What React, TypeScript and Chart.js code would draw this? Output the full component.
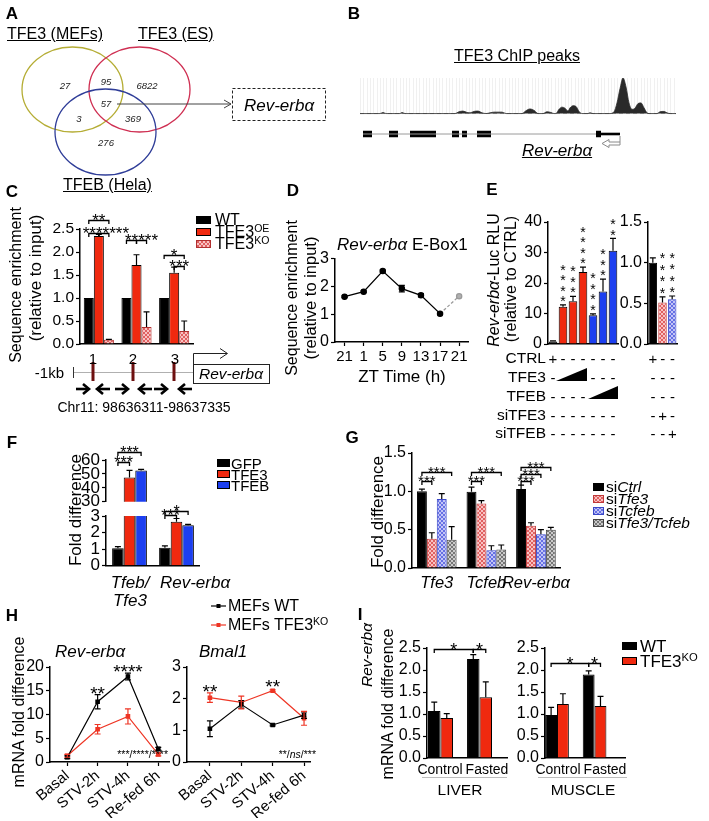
import React, { useEffect, useRef } from 'react';
import { Chart, registerables } from 'chart.js';

Chart.register(...registerables);

const FONT = "'Liberation Sans', Arial, Helvetica, sans-serif";
Chart.defaults.font.family = FONT;
Chart.defaults.color = '#000';

const RED = '#f0290f';
const BLUE = '#1c3ff0';
const HRED = '#ee3524';

// ===== Panel A (Venn) =====
const vennSets = ['TFE3 (MEFs)', 'TFE3 (ES)', 'TFEB (Hela)'];
const vennCounts = [27, 95, 6822, 57, 3, 369, 276];
// layout of the diagram (not data)
const vennCircles = [
  { cx: 72.5, cy: 49.5, rx: 50.5, ry: 42.5, color: '#b5ad35' },
  { cx: 139.5, cy: 49.5, rx: 50.5, ry: 42.5, color: '#cf2f52' },
  { cx: 105.5, cy: 92, rx: 50.5, ry: 43, color: '#2f3d98' },
];
const vennLabelXY = [[65, 46], [106, 42], [147, 46], [106, 64], [79, 79], [133, 79], [106, 103]];

// ===== Panel B (ChIP track) =====
const chipPos = [0, 20, 23, 26, 40, 42, 45, 95, 99, 103, 107, 110, 114, 118, 122, 126, 130, 134, 138, 142, 146, 162, 166, 170, 174, 178, 183, 187, 191, 194, 196, 199, 202, 205, 208, 210, 213, 216, 219, 222, 228, 230, 233, 250, 254, 257, 260, 263, 266, 269, 272, 275, 278, 281, 284, 287, 289, 297, 300, 304, 307, 310, 316];
const chipSignal = [0, 0, 0.3, 0, 0, 0.3, 0, 0, 0.5, 0.7, 0.3, 0.2, 0.6, 0.7, 0.2, 0, 0.2, 0.4, 0.4, 0.4, 0, 0, 0.8, 1.3, 0.9, 0, 0, 0.5, 0.3, 0, 0, 1.2, 1.8, 1.5, 0.7, 1.6, 2.2, 2.0, 0.6, 0, 0, 0.2, 0, 0, 0.5, 3, 7, 10, 7.5, 3, 1.2, 1.5, 2.8, 3, 1.6, 0.2, 0, 0, 0.5, 0.6, 0.2, 0, 0];
const exonStart = [3, 29, 50, 92, 102, 117, 236];
const exonEnd = [12, 38, 76, 99, 107, 131, 241];
const utrSpan = [241, 260];
const intronSpan = [3, 236];

// ===== Panel C =====
const cSites = ['1', '2', '3'];
const cWT = [1, 1, 1];
const cOE = [2.35, 1.72, 1.55];
const cOEErr = [0.03, 0.22, 0.12];
const cKO = [0.09, 0.37, 0.28];
const cKOErr = [0.01, 0.33, 0.22];

// ===== Panel D =====
const dZT = ['21', '1', '5', '9', '13', '17', '21'];
const dMean = [1.63, 1.81, 2.55, 1.92, 1.68, 1.02, 1.65];
const dErr = [0.03, 0.03, 0.04, 0.12, 0.06, 0.04, 0.02];

// ===== Panel E =====
const eConds = ['CTRL', 'TFE3 low', 'TFE3 mid', 'TFE3 high', 'TFEB low', 'TFEB mid', 'TFEB high'];
const eRLU = [0.8, 12.2, 14.0, 23.6, 9.4, 17.2, 30.6];
const eRLUErr = [0.2, 0.6, 1.6, 1.6, 0.5, 4.1, 4.0];
const eStars = [0, 4, 3, 4, 4, 3, 2];
const eSiConds = ['CTRL', 'siTFE3', 'siTFEB'];
const eSiRLU = [1.0, 0.51, 0.55];
const eSiErr = [0.06, 0.07, 0.04];
const eSiStars = [0, 4, 4];
const eRowNames = ['CTRL', 'TFE3', 'TFEB', 'siTFE3', 'siTFEB'];
const eSignsLeft = ['+------', '-   ---', '----   ', '-------', '-------'];
const eSignsRight = ['+--', '---', '---', '-+-', '--+'];

// ===== Panel F =====
const fGenes = ['Tfeb/Tfe3', 'Rev-erbα'];
const fGFP = [1.05, 1.08];
const fGFPErr = [0.1, 0.12];
const fTFE3 = [47.5, 2.65];
const fTFE3Err = [5, 0.2];
const fTFEB = [52.5, 2.45];
const fTFEBErr = [0.7, 0.05];

// ===== Panel G =====
const gGenes = ['Tfe3', 'Tcfeb', 'Rev-erbα'];
const gCtrl = [1.0, 0.995, 1.03];
const gCtrlErr = [0.03, 0.06, 0.05];
const gTfe3 = [0.38, 0.84, 0.55];
const gTfe3Err = [0.08, 0.04, 0.04];
const gTcfeb = [0.9, 0.23, 0.44];
const gTcfebErr = [0.07, 0.06, 0.06];
const gBoth = [0.37, 0.24, 0.5];
const gBothErr = [0.17, 0.06, 0.03];

// ===== Panel H =====
const hTimes = ['Basal', 'STV-2h', 'STV-4h', 'Re-fed 6h'];
const revWT = [1.0, 12.7, 18.0, 2.8];
const revWTErr = [0.3, 1.5, 0.7, 0.3];
const revKO = [1.3, 6.9, 9.6, 1.6];
const revKOErr = [0.3, 1.0, 1.6, 0.3];
const bmalWT = [1.05, 1.82, 1.17, 1.48];
const bmalWTErr = [0.25, 0.12, 0.03, 0.1];
const bmalKO = [2.03, 1.88, 2.25, 1.38];
const bmalKOErr = [0.15, 0.2, 0.03, 0.22];

// ===== Panel I =====
const iConds = ['Control', 'Fasted'];
const liverWT = [1.07, 2.25];
const liverWTErr = [0.2, 0.1];
const liverKO = [0.91, 1.38];
const liverKOErr = [0.1, 0.35];
const muscleWT = [0.98, 1.9];
const muscleWTErr = [0.17, 0.08];
const muscleKO = [1.23, 1.18];
const muscleKOErr = [0.23, 0.22];

// ---------------- helpers ----------------
function hatch(bg: string, fg: string) {
  const c = document.createElement('canvas');
  c.width = 4; c.height = 4;
  const g = c.getContext('2d')!;
  g.fillStyle = bg; g.fillRect(0, 0, 4, 4);
  g.fillStyle = fg;
  for (let k = 0; k < 4; k++) { g.fillRect(k, k, 1, 1); g.fillRect(3 - k, k, 1, 1); }
  return g.createPattern(c, 'repeat');
}
const PINK = ['#f8c2c2', '#e06060'];
const LAV = ['#c2c5f6', '#6670e4'];
const GREY = ['#cacaca', '#767676'];

type Frame = { left: number; top: number; width: number; height: number; padding: any };
function frame(area: number[], yW: number, xH: number, pad: any = {}): Frame {
  const [l, t, r, b] = area;
  const pt = pad.t ?? 0, pr = pad.r ?? 0, pb = pad.b ?? 0;
  const left = l - yW, top = t - pt;
  return { left, top, width: r + pr - left, height: b + xH + pb - top, padding: { top: pt, right: pr, bottom: pb, left: 0 } };
}

function ChartBox({ f, make }: { f: Frame; make: (f: Frame) => any }) {
  const ref = useRef<HTMLCanvasElement>(null);
  useEffect(() => {
    const ch = new Chart(ref.current as any, make(f));
    return () => ch.destroy();
  }, []);
  return <canvas ref={ref} width={f.width} height={f.height}
    style={{ position: 'absolute', left: f.left, top: f.top, width: f.width, height: f.height }} />;
}

function base(f: Frame, scales: any, extra: any = {}) {
  return {
    animation: false, responsive: false, maintainAspectRatio: false, events: [],
    layout: { padding: f.padding },
    plugins: { legend: { display: false }, tooltip: { enabled: false } },
    scales,
    ...extra,
  };
}

function yLin(o: any) {
  return {
    type: 'linear', min: o.min, max: o.max,
    ticks: {
      stepSize: o.step, autoSkip: false, font: { size: o.size ?? 15, family: FONT }, color: '#000', padding: 2,
      callback: (v: any) => (o.dec ? Number(v).toFixed(o.dec) : String(v)),
    },
    grid: { display: true, drawOnChartArea: false, drawTicks: true, tickLength: 4, tickColor: '#000', tickWidth: 1.2 },
    border: { display: true, color: '#000', width: 1.5 },
    afterFit: (s: any) => { s.width = o.w; },
  };
}

function xCat(o: any) {
  return {
    type: 'category', offset: true, display: o.display ?? true,
    ticks: { display: !!o.labels, font: { size: o.size ?? 16, style: o.italic ? 'italic' : 'normal', family: FONT }, color: '#000', padding: 2, autoSkip: false, maxRotation: 0 },
    grid: { display: !!o.ticks, drawOnChartArea: false, drawTicks: true, tickLength: 4, tickColor: '#000', tickWidth: 1.2, offset: false },
    border: { display: true, color: '#000', width: 1.5 },
    afterFit: (s: any) => { s.height = o.h; },
  };
}

function xLinBar(min: number, max: number, h: number) {
  return {
    type: 'linear', min, max, offset: false,
    ticks: { display: false, stepSize: 1, includeBounds: false },
    grid: { display: false, offset: false },
    border: { display: true, color: '#000', width: 1.5 },
    afterFit: (s: any) => { s.height = h; },
  };
}

function xLinH(min: number, max: number, h: number) {
  return {
    type: 'linear', min, max,
    ticks: {
      stepSize: 1, includeBounds: false, autoSkip: false, maxRotation: 40, minRotation: 40,
      font: { size: 15, family: FONT }, color: '#000', padding: 1,
      callback: (v: any) => hTimes[Math.round(v)] ?? '',
    },
    grid: { display: true, drawOnChartArea: false, drawTicks: true, tickLength: 4, tickColor: '#000', tickWidth: 1.2 },
    border: { display: true, color: '#000', width: 1.5 },
    afterFit: (s: any) => { s.height = h; },
  };
}

const errBars = {
  id: 'errBars',
  afterDatasetsDraw(chart: any) {
    const ctx = chart.ctx;
    chart.data.datasets.forEach((ds: any, di: number) => {
      if (!ds.errorBars) return;
      const meta = chart.getDatasetMeta(di);
      const ys = chart.scales[meta.yAxisID];
      ctx.save();
      ctx.strokeStyle = ds.errorColor || '#000';
      ctx.lineWidth = ds.errorWidth || 1.2;
      meta.data.forEach((el: any, i: number) => {
        const raw = ds.data[i];
        const v = raw != null && typeof raw === 'object' ? raw.y : raw;
        const e = ds.errorBars[i];
        if (v == null || e == null) return;
        const x = el.x;
        const yt = ys.getPixelForValue(v + e);
        const yb = ys.getPixelForValue(ds.errorBoth ? v - e : v);
        const cw = ds.errorCap ?? 3;
        ctx.beginPath();
        ctx.moveTo(x, yb); ctx.lineTo(x, yt);
        ctx.moveTo(x - cw, yt); ctx.lineTo(x + cw, yt);
        if (ds.errorBoth) { ctx.moveTo(x - cw, yb); ctx.lineTo(x + cw, yb); }
        ctx.stroke();
      });
      ctx.restore();
    });
  },
};

function brackets(items: any[], size: number) {
  return {
    id: 'brackets',
    afterDatasetsDraw(chart: any) {
      const ctx = chart.ctx; const ys = chart.scales.y;
      const px = (r: number[]) => chart.getDatasetMeta(r[0]).data[r[1]].x;
      ctx.save();
      ctx.strokeStyle = '#000'; ctx.lineWidth = 1.3; ctx.fillStyle = '#000';
      ctx.font = `${size}px ${FONT}`; ctx.textAlign = 'center'; ctx.textBaseline = 'alphabetic';
      for (const b of items) {
        const y = Math.round(ys.getPixelForValue(b.y)) + 0.5;
        const x1 = px(b.a), x2 = px(b.b);
        ctx.beginPath();
        ctx.moveTo(x1, y + 3.5); ctx.lineTo(x1, y); ctx.lineTo(x2, y); ctx.lineTo(x2, y + 3.5);
        ctx.stroke();
        if (b.text) ctx.fillText(b.text, (x1 + x2) / 2 + (b.dx || 0), y - 1.5 + 0.43 * size);
      }
      ctx.restore();
    },
  };
}

function starStack(counts: number[], size: number, spacing: number, gap: number) {
  return {
    id: 'starStack',
    afterDatasetsDraw(chart: any) {
      const ctx = chart.ctx; const ys = chart.scales.y;
      const meta = chart.getDatasetMeta(0); const ds = chart.data.datasets[0];
      ctx.save();
      ctx.fillStyle = '#000'; ctx.font = `${size}px ${FONT}`; ctx.textAlign = 'center'; ctx.textBaseline = 'alphabetic';
      counts.forEach((n, i) => {
        const el = meta.data[i];
        const top = ys.getPixelForValue(ds.data[i] + (ds.errorBars ? ds.errorBars[i] : 0));
        for (let k = 0; k < n; k++) {
          const cy = top - gap - k * spacing;
          ctx.fillText('*', el.x, cy + 0.575 * size);
        }
      });
      ctx.restore();
    },
  };
}

function starLabels(items: any[], size: number) {
  return {
    id: 'starLabels',
    afterDatasetsDraw(chart: any) {
      const ctx = chart.ctx; const xs = chart.scales.x; const ys = chart.scales.y;
      ctx.save();
      ctx.fillStyle = '#000'; ctx.font = `${size}px ${FONT}`; ctx.textAlign = 'center'; ctx.textBaseline = 'alphabetic';
      for (const it of items) {
        ctx.fillText(it.text, xs.getPixelForValue(it.x), ys.getPixelForValue(it.y) + 0.43 * size);
      }
      ctx.restore();
    },
  };
}

const vennPlugin = {
  id: 'venn',
  afterDatasetsDraw(chart: any) {
    const ctx = chart.ctx; const xs = chart.scales.x; const ys = chart.scales.y;
    ctx.save();
    ctx.lineWidth = 1.3;
    for (const c of vennCircles) {
      const cx = xs.getPixelForValue(c.cx), cy = ys.getPixelForValue(c.cy);
      const rx = Math.abs(xs.getPixelForValue(c.cx + c.rx) - cx);
      const ry = Math.abs(ys.getPixelForValue(c.cy + c.ry) - cy);
      ctx.strokeStyle = c.color;
      ctx.beginPath(); ctx.ellipse(cx, cy, rx, ry, 0, 0, Math.PI * 2); ctx.stroke();
    }
    const meta = chart.getDatasetMeta(0);
    ctx.fillStyle = '#222'; ctx.font = `italic 9.5px ${FONT}`; ctx.textAlign = 'center'; ctx.textBaseline = 'middle';
    meta.data.forEach((el: any, i: number) => ctx.fillText(String(vennCounts[i]), el.x, el.y));
    ctx.restore();
  },
};

const stripes = {
  id: 'stripes',
  beforeDatasetsDraw(chart: any) {
    const ctx = chart.ctx; const xs = chart.scales.x; const ys = chart.scales.y;
    const top = ys.getPixelForValue(10), bot = ys.getPixelForValue(0);
    ctx.save(); ctx.strokeStyle = 'rgba(0,0,0,0.06)'; ctx.lineWidth = 1;
    for (let v = 0; v <= 316; v += 3.3) {
      const px = Math.round(xs.getPixelForValue(v)) + 0.5;
      ctx.beginPath(); ctx.moveTo(px, top); ctx.lineTo(px, bot); ctx.stroke();
    }
    ctx.restore();
  },
};

// ---------------- chart configs ----------------
const fA = frame([0, 40, 240, 190], 0, 0);
const mkA = (f: Frame) => ({
  type: 'scatter',
  data: { datasets: [{ data: vennLabelXY.map(([x, y]) => ({ x, y })), pointRadius: 0 }] },
  options: base(f, { x: { display: false, min: 0, max: 240 }, y: { display: false, min: 0, max: 150, reverse: true } }),
  plugins: [vennPlugin],
});

const fB = frame([360, 78, 676, 142], 0, 0);
const mkB = (f: Frame) => {
  const gy = -5.75;
  const exonPts: any[] = [];
  exonStart.forEach((s, i) => { exonPts.push({ x: s, y: gy }, { x: exonEnd[i], y: gy }, { x: exonEnd[i], y: null }); });
  return {
    type: 'line',
    data: {
      datasets: [
        { data: chipPos.map((x, i) => ({ x, y: chipSignal[i] })), borderColor: '#2a2a2a', backgroundColor: '#2a2a2a', borderWidth: 0.8, fill: 'origin', pointRadius: 0, cubicInterpolationMode: 'monotone', order: 1 },
        { data: [{ x: 0, y: 0 }, { x: 316, y: 0 }], borderColor: '#b5b5b5', borderDash: [4, 3], borderWidth: 1, pointRadius: 0, order: 2 },
        { data: [{ x: intronSpan[0], y: gy }, { x: intronSpan[1], y: gy }], borderColor: '#9a9a9a', borderWidth: 1, pointRadius: 0 },
        { data: exonPts, borderColor: '#000', borderWidth: 6.5, borderCapStyle: 'butt', pointRadius: 0, spanGaps: false },
        { data: [{ x: utrSpan[0], y: gy }, { x: utrSpan[1], y: gy }], borderColor: '#000', borderWidth: 2.6, borderCapStyle: 'butt', pointRadius: 0 },
      ],
    },
    options: base(f, { x: { type: 'linear', display: false, min: 0, max: 316 }, y: { display: false, min: -8, max: 10 } }),
    plugins: [stripes],
  };
};

const fC = frame([80, 229, 193, 344], 40, 12, { t: 32, r: 2 });
const mkC = (f: Frame) => ({
  type: 'bar',
  data: {
    labels: cSites,
    datasets: [
      { data: cWT, backgroundColor: '#000', borderColor: '#000', borderWidth: 1 },
      { data: cOE, backgroundColor: RED, borderColor: '#000', borderWidth: 1, errorBars: cOEErr },
      { data: cKO, backgroundColor: hatch(PINK[0], PINK[1]), borderColor: '#b03030', borderWidth: 1, errorBars: cKOErr },
    ],
  },
  options: base(f, { x: xCat({ h: 12 }), y: yLin({ min: 0, max: 2.5, step: 0.5, dec: 1, w: 40, size: 15.5 }) },
    { datasets: { bar: { categoryPercentage: 0.8, barPercentage: 1 } } }),
  plugins: [errBars, brackets([
    { a: [0, 0], b: [2, 0], y: 2.7, text: '**' },
    { a: [0, 0], b: [1, 0], y: 2.42 },
    { a: [1, 0], b: [2, 0], y: 2.42, text: '*******', dx: 2 },
    { a: [0, 1], b: [1, 1], y: 2.26 },
    { a: [1, 1], b: [2, 1], y: 2.26, text: '*****' },
    { a: [0, 2], b: [2, 2], y: 1.93, text: '*' },
    { a: [1, 2], b: [2, 2], y: 1.7, text: '***' },
  ], 17)],
});

const fD = frame([335, 257, 470, 342], 22, 24, { t: 10, r: 4 });
const mkD = (f: Frame) => ({
  type: 'line',
  data: {
    labels: dZT,
    datasets: [
      { data: dMean.map((v, i) => (i < 6 ? v : null)), borderColor: '#000', backgroundColor: '#000', borderWidth: 1.3, pointRadius: 2.6, pointStyle: 'circle', errorBars: dErr.map((e, i) => (i < 6 ? e : null)), errorBoth: true, errorCap: 3 },
      { data: dMean.map((v, i) => (i >= 5 ? v : null)), borderColor: '#9a9a9a', backgroundColor: '#b0b0b0', borderWidth: 1.3, borderDash: [3, 2], pointRadius: [0, 0, 0, 0, 0, 0, 2.6] },
    ],
  },
  options: base(f, {
    x: { ...xCat({ h: 24, labels: true, ticks: true, size: 15 }) },
    y: yLin({ min: 0, max: 3, step: 1, w: 22, size: 16 }),
  }),
  plugins: [errBars],
});

const fE1 = frame([548, 222, 618, 344], 26, 12, { t: 16, r: 1 });
const mkE1 = (f: Frame) => ({
  type: 'bar',
  data: {
    labels: eConds,
    datasets: [{ data: eRLU, backgroundColor: ['#000', RED, RED, RED, BLUE, BLUE, BLUE], borderColor: '#000', borderWidth: 1, errorBars: eRLUErr }],
  },
  options: base(f, { x: xCat({ h: 12 }), y: yLin({ min: 0, max: 40, step: 10, w: 26, size: 16 }) },
    { datasets: { bar: { categoryPercentage: 1, barPercentage: 0.86 } } }),
  plugins: [errBars, starStack(eStars, 14, 10.5, 7)],
});

const fE2 = frame([648, 222, 677, 344], 28, 12, { t: 16, r: 4 });
const mkE2 = (f: Frame) => ({
  type: 'bar',
  data: {
    labels: eSiConds,
    datasets: [{ data: eSiRLU, backgroundColor: ['#000', hatch(PINK[0], PINK[1]), hatch(LAV[0], LAV[1])], borderColor: ['#000', '#c03a3a', '#3a48c8'], borderWidth: 1, errorBars: eSiErr }],
  },
  options: base(f, { x: xCat({ h: 12 }), y: yLin({ min: 0, max: 1.5, step: 0.5, dec: 1, w: 28, size: 16 }) },
    { datasets: { bar: { categoryPercentage: 1, barPercentage: 0.88 } } }),
  plugins: [errBars, starStack(eSiStars, 14, 11.5, 7)],
});

const fDatasets = (upper: boolean) => [
  { data: fGFP, backgroundColor: '#000', borderColor: '#000', borderWidth: 1, errorBars: upper ? null : fGFPErr },
  { data: fTFE3, backgroundColor: RED, borderColor: '#000', borderWidth: 1, errorBars: upper ? [fTFE3Err[0], null] : [null, fTFE3Err[1]] },
  { data: fTFEB, backgroundColor: BLUE, borderColor: '#000', borderWidth: 1, errorBars: upper ? [fTFEBErr[0], null] : [null, fTFEBErr[1]] },
];
const fF1 = frame([106, 460, 200, 504], 28, 0, { t: 22, b: 10 });
const mkF1 = (f: Frame) => ({
  type: 'bar',
  data: { labels: fGenes, datasets: fDatasets(true) },
  options: base(f, { x: { ...xCat({ h: 0 }), display: false }, y: yLin({ min: 30, max: 60, step: 10, w: 28, size: 17 }) },
    { datasets: { bar: { categoryPercentage: 0.74, barPercentage: 1, clip: 0 } } }),
  plugins: [errBars, brackets([
    { a: [0, 0], b: [2, 0], y: 65.5, text: '***' },
    { a: [0, 0], b: [1, 0], y: 58.6, text: '***' },
  ], 16)],
});
const fF2 = frame([106, 516, 200, 566], 28, 12, { t: 14 });
const mkF2 = (f: Frame) => ({
  type: 'bar',
  data: { labels: fGenes, datasets: fDatasets(false) },
  options: base(f, { x: xCat({ h: 12 }), y: yLin({ min: 0, max: 3, step: 1, w: 28, size: 17 }) },
    { datasets: { bar: { categoryPercentage: 0.74, barPercentage: 1, clip: 0 } } }),
  plugins: [errBars, brackets([
    { a: [0, 1], b: [2, 1], y: 3.3, text: '*' },
    { a: [0, 1], b: [1, 1], y: 3.05, text: '***' },
  ], 16)],
});

const fG = frame([412, 453, 572, 568], 30, 30, { t: 24 });
const mkG = (f: Frame) => ({
  type: 'bar',
  data: {
    labels: gGenes,
    datasets: [
      { data: gCtrl, backgroundColor: '#000', borderColor: '#000', borderWidth: 1, errorBars: gCtrlErr },
      { data: gTfe3, backgroundColor: hatch(PINK[0], PINK[1]), borderColor: '#c03a3a', borderWidth: 1, errorBars: gTfe3Err },
      { data: gTcfeb, backgroundColor: hatch(LAV[0], LAV[1]), borderColor: '#3a48c8', borderWidth: 1, errorBars: gTcfebErr },
      { data: gBoth, backgroundColor: hatch(GREY[0], GREY[1]), borderColor: '#444', borderWidth: 1, errorBars: gBothErr },
    ],
  },
  options: base(f, { x: xCat({ h: 30, labels: true, italic: true, size: 16.5 }), y: yLin({ min: 0, max: 1.5, step: 0.5, dec: 1, w: 30, size: 16 }) },
    { datasets: { bar: { categoryPercentage: 0.8, barPercentage: 1 } } }),
  plugins: [errBars, brackets([
    { a: [0, 0], b: [3, 0], y: 1.25, text: '***' },
    { a: [0, 0], b: [1, 0], y: 1.13, text: '***' },
    { a: [0, 1], b: [3, 1], y: 1.25, text: '***' },
    { a: [0, 1], b: [1, 1], y: 1.13, text: '***' },
    { a: [0, 2], b: [3, 2], y: 1.32, text: '***' },
    { a: [0, 2], b: [2, 2], y: 1.23, text: '***' },
    { a: [0, 2], b: [1, 2], y: 1.14, text: '***' },
  ], 15)],
});

const lineDs = (vals: number[], errs: number[], color: string) => ({
  data: vals.map((v, i) => ({ x: i, y: v })), borderColor: color, backgroundColor: color, borderWidth: 1.2,
  pointStyle: 'rect', pointRadius: 2.4, errorBars: errs, errorBoth: true, errorColor: color, errorCap: 3,
});
const fH1 = frame([50, 667, 175, 762], 24, 56, { t: 14 });
const mkH1 = (f: Frame) => ({
  type: 'line',
  data: { datasets: [lineDs(revWT, revWTErr, '#000'), lineDs(revKO, revKOErr, HRED)] },
  options: base(f, { x: xLinH(-0.57, 3.38, 56), y: yLin({ min: 0, max: 20, step: 5, w: 24, size: 16 }) }),
  plugins: [errBars, starLabels([{ x: 1, y: 14.8, text: '**' }, { x: 2, y: 19.4, text: '****' }], 19)],
});
const fH2 = frame([187, 667, 310, 762], 16, 56, { t: 14, r: 8 });
const mkH2 = (f: Frame) => ({
  type: 'line',
  data: { datasets: [lineDs(bmalWT, bmalWTErr, '#000'), lineDs(bmalKO, bmalKOErr, HRED)] },
  options: base(f, { x: xLinH(-0.73, 3.19, 56), y: yLin({ min: 0, max: 3, step: 1, w: 16, size: 16 }) }),
  plugins: [errBars, starLabels([{ x: 0, y: 2.27, text: '**' }, { x: 2, y: 2.43, text: '**' }], 19)],
});

const barDs = (vals: number[], errs: number[], color: string) => ({
  data: vals.map((v, i) => ({ x: i, y: v })), backgroundColor: color, borderColor: '#000', borderWidth: 1, errorBars: errs,
});
const fI1 = frame([427, 648, 508, 758], 32, 12, { t: 14 });
const mkI1 = (f: Frame) => ({
  type: 'bar',
  data: { datasets: [barDs(liverWT, liverWTErr, '#000'), barDs(liverKO, liverKOErr, RED)] },
  options: base(f, { x: xLinBar(-0.346, 1.73, 12), y: yLin({ min: 0, max: 2.5, step: 0.5, dec: 1, w: 32, size: 16 }) },
    { datasets: { bar: { categoryPercentage: 0.64, barPercentage: 1 } } }),
  plugins: [errBars, brackets([
    { a: [0, 0], b: [0, 1], y: 2.48, text: '*' },
    { a: [0, 1], b: [1, 1], y: 2.48, text: '*' },
  ], 18)],
});
const fI2 = frame([545, 648, 625, 758], 32, 12, { t: 14, r: 2 });
const mkI2 = (f: Frame) => ({
  type: 'bar',
  data: { datasets: [barDs(muscleWT, muscleWTErr, '#000'), barDs(muscleKO, muscleKOErr, RED)] },
  options: base(f, { x: xLinBar(-0.32, 1.81, 12), y: yLin({ min: 0, max: 2.5, step: 0.5, dec: 1, w: 32, size: 16 }) },
    { datasets: { bar: { categoryPercentage: 0.63, barPercentage: 1 } } }),
  plugins: [errBars, brackets([
    { a: [0, 0], b: [0, 1], y: 2.16, text: '*' },
    { a: [0, 1], b: [1, 1], y: 2.16, text: '*' },
  ], 18)],
});

// ---------------- text helpers ----------------
function T({ x, y, s = 15, a = 'l', i = false, b = false, u = false, c = '#000', children }: any) {
  const tx = a === 'c' ? '-50%' : a === 'r' ? '-100%' : '0';
  return (
    <div style={{
      position: 'absolute', left: x, top: y - s / 2, fontSize: s, lineHeight: `${s}px`,
      fontStyle: i ? 'italic' : 'normal', fontWeight: b ? 'bold' : 'normal',
      textDecoration: u ? 'underline' : 'none', transform: `translateX(${tx})`, whiteSpace: 'nowrap', color: c,
    }}>{children}</div>
  );
}
function R({ x, y, s = 16, children }: any) {
  return (
    <div style={{
      position: 'absolute', left: x, top: y, fontSize: s, lineHeight: `${s}px`,
      transform: 'translate(-50%,-50%) rotate(-90deg)', whiteSpace: 'nowrap',
    }}>{children}</div>
  );
}
const Sup = ({ children }: any) => <span style={{ fontSize: '0.66em', verticalAlign: '0.5em', lineHeight: 0 }}>{children}</span>;

function HatchDef({ id, bg, fg }: any) {
  return (
    <pattern id={id} width="4" height="4" patternUnits="userSpaceOnUse">
      <rect width="4" height="4" fill={bg} />
      <path d="M0 0h1v1H0zM1 1h1v1H1zM2 2h1v1H2zM3 3h1v1H3zM3 0h1v1H3zM2 1h1v1H2zM1 2h1v1H1zM0 3h1v1H0z" fill={fg} />
    </pattern>
  );
}

function Arrow({ x1, x2, y }: any) {
  const dir = x2 > x1 ? 1 : -1;
  return (
    <g stroke="#000" strokeWidth={2.6} fill="none" strokeLinejoin="miter">
      <line x1={x1} y1={y} x2={x2 - dir * 1.5} y2={y} />
      <polyline points={`${x2 - dir * 6},${y - 5} ${x2},${y} ${x2 - dir * 6},${y + 5}`} />
    </g>
  );
}

export default function App() {
  const eRowY = [358, 377, 396, 415, 433];
  const cArrows = [[76, 89], [110, 97], [115, 128], [152, 139], [154, 167], [192, 179]];
  return (
    <div style={{ position: 'absolute', left: 0, top: 0, width: 709, height: 821, background: '#fff', fontFamily: FONT, color: '#000', overflow: 'hidden' }}>
      <ChartBox f={fA} make={mkA} />
      <ChartBox f={fB} make={mkB} />
      <ChartBox f={fC} make={mkC} />
      <ChartBox f={fD} make={mkD} />
      <ChartBox f={fE1} make={mkE1} />
      <ChartBox f={fE2} make={mkE2} />
      <ChartBox f={fF1} make={mkF1} />
      <ChartBox f={fF2} make={mkF2} />
      <ChartBox f={fG} make={mkG} />
      <ChartBox f={fH1} make={mkH1} />
      <ChartBox f={fH2} make={mkH2} />
      <ChartBox f={fI1} make={mkI1} />
      <ChartBox f={fI2} make={mkI2} />

      <svg width={709} height={821} style={{ position: 'absolute', left: 0, top: 0, pointerEvents: 'none' }}>
        <defs>
          <HatchDef id="hPink" bg={PINK[0]} fg={PINK[1]} />
          <HatchDef id="hLav" bg={LAV[0]} fg={LAV[1]} />
          <HatchDef id="hGrey" bg={GREY[0]} fg={GREY[1]} />
        </defs>
        {/* A: arrow + dashed box */}
        <line x1={117} y1={104} x2={231} y2={104} stroke="#444" strokeWidth={1} />
        <polyline points="224,100 231,104 224,108" stroke="#444" strokeWidth={1} fill="none" />
        <rect x={232.5} y={88.5} width={93} height={32} fill="none" stroke="#222" strokeWidth={1} strokeDasharray="3 2" />
        {/* B: TSS arrow */}
        <polygon points="602,143.5 609,139.5 609,142 620,142 620,145 609,145 609,147.5" fill="#fff" stroke="#8a8a8a" strokeWidth={1} />
        <line x1={620} y1={136} x2={620} y2={142} stroke="#8a8a8a" strokeWidth={1} />
        {/* C: promoter schematic */}
        <line x1={73} y1={372.5} x2={193} y2={372.5} stroke="#b0b0b0" strokeWidth={1} />
        <line x1={73.5} y1={367} x2={73.5} y2={378} stroke="#333" strokeWidth={1} />
        {[93, 133, 174].map((x) => <rect key={x} x={x - 1.5} y={362} width={3} height={19} fill="#6e1010" />)}
        <rect x={193.5} y={364.5} width={76} height={19} fill="#fff" stroke="#222" strokeWidth={1} />
        <polyline points="193.5,364 193.5,353.5 227,353.5" fill="none" stroke="#222" strokeWidth={1} />
        <polyline points="220,348.5 227.5,353.5 220,358.5" fill="none" stroke="#222" strokeWidth={1} />
        {cArrows.map(([a, b], k) => <Arrow key={k} x1={a} x2={b} y={389} />)}
        {/* C legend */}
        <rect x={196} y={216} width={15} height={8} fill="#000" />
        <rect x={196.5} y={228.5} width={14} height={7} fill={RED} stroke="#000" strokeWidth={1} />
        <rect x={196.5} y={240.5} width={14} height={7} fill="url(#hPink)" stroke="#b03030" strokeWidth={1} />
        {/* E ramps */}
        <polygon points="556,381 587,381 587,368" fill="#000" />
        <polygon points="588,399 618,399 618,386" fill="#000" />
        {/* F legend */}
        <rect x={217} y={459} width={13} height={8} fill="#000" />
        <rect x={217.5} y={470.5} width={12} height={7} fill={RED} stroke="#000" strokeWidth={1} />
        <rect x={217.5} y={481.5} width={12} height={7} fill={BLUE} stroke="#000" strokeWidth={1} />
        {/* G legend */}
        <rect x={593} y={483} width={11} height={8} fill="#000" />
        <rect x={593.5} y={495.5} width={10} height={7} fill="url(#hPink)" stroke="#c03a3a" strokeWidth={1} />
        <rect x={593.5} y={507.5} width={10} height={7} fill="url(#hLav)" stroke="#3a48c8" strokeWidth={1} />
        <rect x={593.5} y={519.5} width={10} height={7} fill="url(#hGrey)" stroke="#444" strokeWidth={1} />
        {/* H legend */}
        <line x1={211} y1={606} x2={226} y2={606} stroke="#000" strokeWidth={1.2} />
        <rect x={216.5} y={604} width={4} height={4} fill="#000" />
        <line x1={211} y1={625} x2={226} y2={625} stroke={HRED} strokeWidth={1.2} />
        <rect x={216.5} y={623} width={4} height={4} fill={HRED} />
        {/* I legend + underlines */}
        <rect x={622} y={642} width={15} height={8} fill="#000" />
        <rect x={622.5} y={657.5} width={14} height={7} fill={RED} stroke="#000" strokeWidth={1} />
        <line x1={422} y1={777.5} x2={507} y2={777.5} stroke="#bdbdbd" strokeWidth={1} />
        <line x1={538} y1={777.5} x2={627} y2={777.5} stroke="#bdbdbd" strokeWidth={1} />
      </svg>

      {/* panel letters */}
      <T x={12} y={13} s={17} a="c" b>A</T>
      <T x={354} y={13} s={17} a="c" b>B</T>
      <T x={12} y={191} s={17} a="c" b>C</T>
      <T x={293} y={190} s={17} a="c" b>D</T>
      <T x={492} y={189} s={17} a="c" b>E</T>
      <T x={12} y={442} s={17} a="c" b>F</T>
      <T x={352} y={437} s={17} a="c" b>G</T>
      <T x={12} y={615} s={17} a="c" b>H</T>
      <T x={360} y={614} s={17} a="c" b>I</T>

      {/* A */}
      <T x={7} y={34} s={16} u>{vennSets[0]}</T>
      <T x={138} y={34} s={16} u>{vennSets[1]}</T>
      <T x={63} y={185} s={16} u>{vennSets[2]}</T>
      <T x={279} y={105} s={17} a="c" i>Rev-erbα</T>

      {/* B */}
      <T x={517} y={56} s={16} a="c" u>TFE3 ChIP peaks</T>
      <T x={557} y={150} s={17} a="c" i u>Rev-erbα</T>

      {/* C */}
      <R x={16} y={285} s={16}>Sequence enrichment</R>
      <R x={35} y={278} s={17}>(relative to input)</R>
      <T x={215} y={220} s={16}>WT</T>
      <T x={215} y={232} s={16}>TFE3<Sup>OE</Sup></T>
      <T x={215} y={244} s={16}>TFE3<Sup>KO</Sup></T>
      {cSites.map((sLab, k) => <T key={k} x={[93, 133, 175][k]} y={358} s={15} a="c">{sLab}</T>)}
      <T x={64} y={372} s={15} a="r">-1kb</T>
      <T x={231} y={374} s={15.5} a="c" i>Rev-erbα</T>
      <T x={144} y={407} s={14} a="c">Chr11: 98636311-98637335</T>

      {/* D */}
      <R x={292} y={298} s={16}>Sequence enrichment</R>
      <R x={310} y={298} s={16.5}>(relative to input)</R>
      <T x={337} y={244} s={17}><i>Rev-erbα</i> E-Box1</T>
      <T x={402} y={376} s={17} a="c">ZT Time (h)</T>

      {/* E */}
      <R x={494} y={280} s={16}><i>Rev-erbα</i>-Luc RLU</R>
      <R x={511} y={279} s={16}>(relative to CTRL)</R>
      {eRowNames.map((n, r) => (
        <React.Fragment key={n}>
          <T x={546} y={eRowY[r]} s={15.5} a="r">{n}</T>
          {eSignsLeft[r].split('').map((ch, k) => ch !== ' ' ? <T key={'l' + k} x={553 + 10 * k} y={eRowY[r]} s={15} a="c">{ch}</T> : null)}
          {eSignsRight[r].split('').map((ch, k) => <T key={'r' + k} x={653 + 9.7 * k} y={eRowY[r]} s={15} a="c">{ch}</T>)}
        </React.Fragment>
      ))}

      {/* F */}
      <R x={75} y={510} s={17}>Fold difference</R>
      <T x={130} y={582} s={17} a="c" i>Tfeb/</T>
      <T x={130} y={600} s={17} a="c" i>Tfe3</T>
      <T x={195} y={582} s={17} a="c" i>{fGenes[1]}</T>
      <T x={231} y={463} s={15}>GFP</T>
      <T x={231} y={474} s={15}>TFE3</T>
      <T x={231} y={485} s={15}>TFEB</T>

      {/* G */}
      <R x={377} y={512} s={17}>Fold difference</R>
      <T x={606} y={487} s={15.5}>si<i>Ctrl</i></T>
      <T x={606} y={499} s={15.5}>si<i>Tfe3</i></T>
      <T x={606} y={511} s={15.5}>si<i>Tcfeb</i></T>
      <T x={606} y={523} s={15.5}>si<i>Tfe3/Tcfeb</i></T>

      {/* H */}
      <T x={228} y={606} s={16}>MEFs WT</T>
      <T x={228} y={625} s={16}>MEFs TFE3<Sup>KO</Sup></T>
      <T x={55} y={651} s={17} i>Rev-erbα</T>
      <T x={199} y={651} s={17} i>Bmal1</T>
      <R x={19} y={712} s={16}>mRNA fold difference</R>
      <T x={168} y={754} s={10.5} a="r">***/****/****</T>
      <T x={316} y={754} s={10.5} a="r">**/<i>ns</i>/***</T>

      {/* I */}
      <R x={367} y={655} s={15.5}><i>Rev-erbα</i></R>
      <R x={388} y={704} s={16}>mRNA fold difference</R>
      <T x={440} y={769} s={14} a="c">{iConds[0]}</T>
      <T x={487} y={769} s={14} a="c">{iConds[1]}</T>
      <T x={558} y={769} s={14} a="c">{iConds[0]}</T>
      <T x={605} y={769} s={14} a="c">{iConds[1]}</T>
      <T x={460} y={790} s={15.5} a="c">LIVER</T>
      <T x={583} y={790} s={15.5} a="c">MUSCLE</T>
      <T x={640} y={646} s={17}>WT</T>
      <T x={640} y={661} s={17}>TFE3<Sup>KO</Sup></T>
    </div>
  );
}
